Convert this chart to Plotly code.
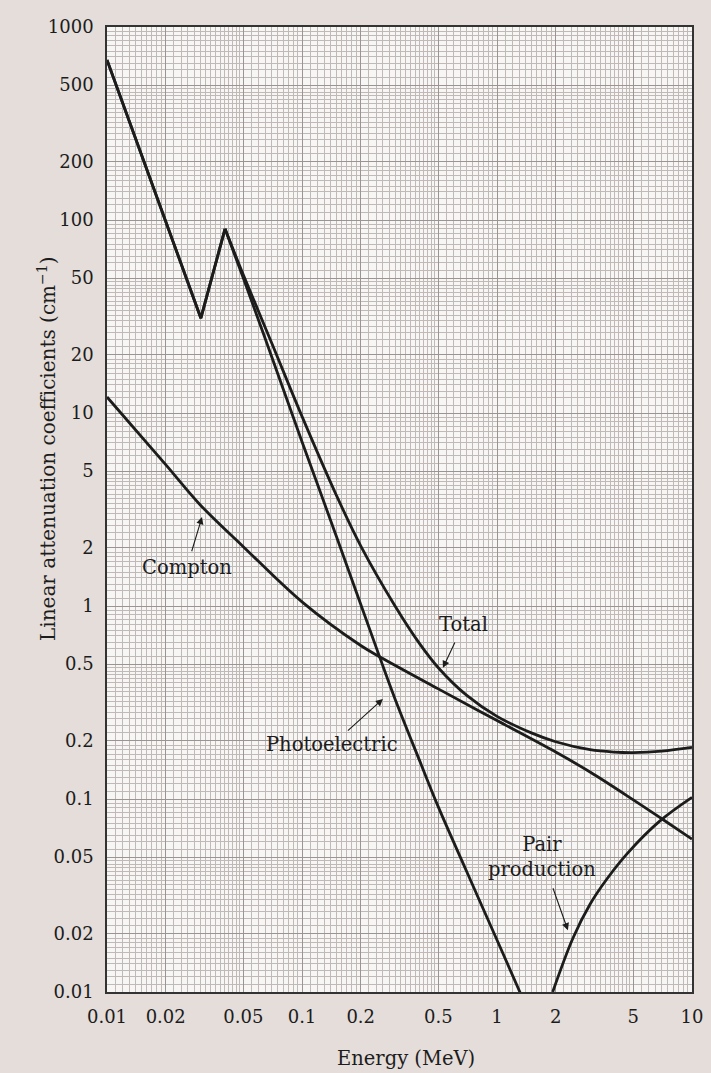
import numpy as np
import plotly.graph_objects as go

# Photon energy (MeV) and linear attenuation coefficient (cm^-1) per process
total_energy = [0.01, 0.0303, 0.0403, 0.05, 0.07, 0.1, 0.15, 0.2, 0.3, 0.4, 0.5,
                0.7, 1.0, 1.5, 2.0, 3.0, 4.0, 5.0, 7.0, 10.0]
total_mu = [675, 31, 90, 52, 23, 9.6, 3.75, 2.05, 1.0, 0.64, 0.479,
            0.344, 0.268, 0.22, 0.198, 0.18, 0.175, 0.174, 0.177, 0.185]

photo_energy = [0.01, 0.0303, 0.0403, 0.05, 0.07, 0.1, 0.15, 0.2, 0.25, 0.3,
                0.4, 0.5, 0.7, 1.0, 1.31, 1.5]
photo_mu = [675, 31, 90, 50, 19.5, 7.1, 2.3, 1.02, 0.545, 0.33,
            0.159, 0.091, 0.042, 0.0186, 0.0100, 0.0073]

compton_energy = [0.01, 0.02, 0.03, 0.05, 0.1, 0.2, 0.25, 0.5, 1.0, 2.0,
                  3.0, 5.0, 7.0, 10.0]
compton_mu = [12.1, 5.4, 3.35, 2.03, 1.05, 0.624, 0.546, 0.372, 0.255, 0.175,
              0.138, 0.099, 0.079, 0.062]

pair_energy = [1.93, 2.45, 3.0, 3.66, 4.64, 6.85, 10.0]
pair_mu = [0.010, 0.019, 0.0285, 0.0385, 0.052, 0.077, 0.102]

# Axis tick labels
x_tick_vals = [0.01, 0.02, 0.05, 0.1, 0.2, 0.5, 1, 2, 5, 10]
x_tick_text = ["0.01", "0.02", "0.05", "0.1", "0.2", "0.5", "1", "2", "5", "10"]
y_tick_vals = [0.01, 0.02, 0.05, 0.1, 0.2, 0.5, 1, 2, 5, 10, 20, 50, 100, 200, 500, 1000]
y_tick_text = ["0.01", "0.02", "0.05", "0.1", "0.2", "0.5", "1", "2", "5", "10",
               "20", "50", "100", "200", "500", "1000"]


def paper_rulings(first_decade, n_decades, labelled):
    """Light graph-paper rulings between the labelled lines of each decade."""
    subs = list(np.arange(1.1, 2.0, 0.1)) + list(np.arange(2.2, 5.0, 0.2)) + \
        list(np.arange(5.5, 10.0, 0.5)) + [3, 4, 6, 7, 8, 9]
    taken = {round(v, 6) for v in labelled}
    out = []
    for k in range(n_decades):
        d = first_decade * 10 ** k
        for s in subs:
            v = round(s * d, 8)
            if round(v, 6) not in taken:
                out.append(v)
    return sorted(out)


x_rulings = paper_rulings(0.01, 3, x_tick_vals)
y_rulings = paper_rulings(0.01, 5, y_tick_vals)

ink = "#1c1c1c"
font_family = "DejaVu Serif"
line_w = 2.8

fig = go.Figure()


def add_curve(xs, ys, name, sharp=0):
    # leading points joined straight (absorption edge), the rest smoothed
    if sharp:
        fig.add_trace(go.Scatter(x=xs[:sharp + 1], y=ys[:sharp + 1], mode="lines",
                                 line=dict(color=ink, width=line_w), name=name,
                                 showlegend=False, hoverinfo="skip"))
        xs, ys = xs[sharp:], ys[sharp:]
    fig.add_trace(go.Scatter(x=xs, y=ys, mode="lines",
                             line=dict(color=ink, width=line_w, shape="spline", smoothing=1.0),
                             name=name, showlegend=False))


add_curve(total_energy, total_mu, "Total", sharp=2)
add_curve(photo_energy, photo_mu, "Photoelectric", sharp=2)
add_curve(compton_energy, compton_mu, "Compton")
add_curve(pair_energy, pair_mu, "Pair production")

lg = np.log10
labels = [
    # text, text centre, arrow head, extra gap at arrow start  (energy MeV, mu cm^-1)
    ("Compton", (0.0257, 1.59), (0.0307, 2.89), 3),
    ("Total", (0.670, 0.798), (0.528, 0.478), 5),
    ("Photoelectric", (0.1426, 0.1905), (0.260, 0.330), 2),
    ("Pair<br>production", (1.70, 0.050), (2.31, 0.0209), 6),
]
for text, (tx, ty), (hx, hy), gap in labels:
    fig.add_annotation(x=lg(hx), y=lg(hy), ax=lg(tx), ay=lg(ty), xref="x", yref="y",
                       axref="x", ayref="y", text=text, showarrow=True,
                       arrowhead=2, arrowsize=1.3, arrowwidth=1.1, arrowcolor=ink,
                       startstandoff=gap,
                       font=dict(family=font_family, size=19.5, color=ink))

# Axis titles placed as annotations (the y title sits above the plot centre)
fig.add_annotation(x=-0.1026, y=0.5637, xref="paper", yref="paper",
                   xanchor="center", yanchor="middle",
                   text="Linear attenuation coefficients (cm<sup>\u22121</sup>)",
                   textangle=-90, showarrow=False,
                   font=dict(family=font_family, size=20, color=ink))
fig.add_annotation(x=0.511, y=-0.0684, xref="paper", yref="paper",
                   xanchor="center", yanchor="middle",
                   text="Energy (MeV)", showarrow=False,
                   font=dict(family=font_family, size=19.5, color=ink))

axis_common = dict(
    type="log", showline=True, mirror=True, linecolor="#333333", linewidth=1.5,
    ticks="", tickmode="array", gridcolor="#9a9593", gridwidth=0.9,
    tickfont=dict(family=font_family, size=18, color=ink), zeroline=False,
    automargin=False,
)
fig.update_xaxes(range=[-2, 1], tickvals=x_tick_vals, ticktext=x_tick_text,
                 ticklabelstandoff=8,
                 minor=dict(tickmode="array", tickvals=x_rulings, showgrid=True,
                            gridcolor="#bfbab7", gridwidth=0.6, ticks=""),
                 **axis_common)
fig.update_yaxes(range=[-2, 3], tickvals=y_tick_vals, ticktext=y_tick_text,
                 ticklabelstandoff=8,
                 minor=dict(tickmode="array", tickvals=y_rulings, showgrid=True,
                            gridcolor="#bfbab7", gridwidth=0.6, ticks=""),
                 **axis_common)

fig.update_layout(
    width=711, height=1073,
    margin=dict(l=107, r=19, t=27, b=81),
    paper_bgcolor="#e4ddd9", plot_bgcolor="#f8f6f4",
    showlegend=False,
)

fig.write_html("out.html")
